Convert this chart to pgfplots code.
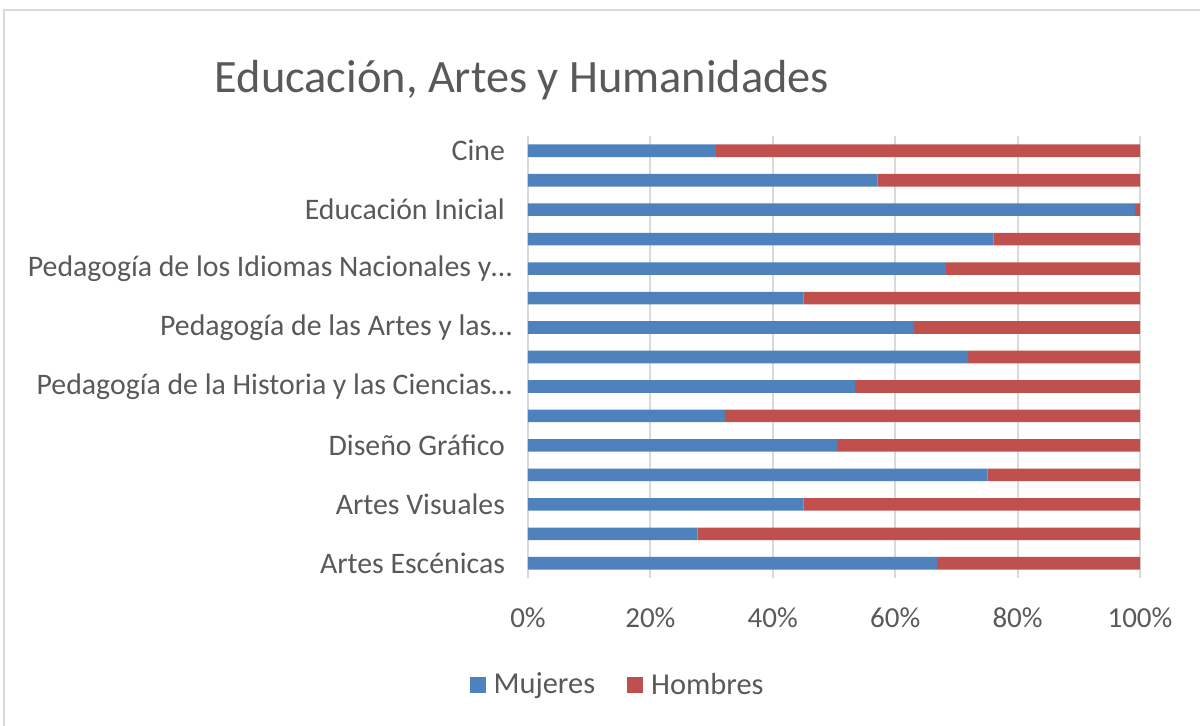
\documentclass[border=0pt]{standalone}
\usepackage{fontspec}
\setmainfont{Carlito}
\usepackage{pgfplots}
\pgfplotsset{compat=1.18}
\definecolor{mblue}{HTML}{4F81BD}
\definecolor{hred}{HTML}{C0504D}
\definecolor{txt}{HTML}{595959}
\definecolor{gridc}{HTML}{D9D9D9}
\newcommand{\tsp}{\rule{3.5pt}{0pt}}
\begin{document}
\begin{tikzpicture}
\path[use as bounding box] (0pt,0pt) rectangle (600pt,-363pt);
\draw[gridc, line width=1pt] (2pt,-363pt) -- (2pt,-5pt) -- (600pt,-5pt);
\node[txt, font=\fontsize{23.2}{27}\selectfont] at (261pt,-40pt) {Educación, Artes y Humanidades};
\begin{axis}[
  at={(264pt,-289pt)}, anchor=south west,
  scale only axis, width=306pt, height=221pt,
  xbar stacked, bar width=6.3pt,
  xmin=0, xmax=100, ymin=-0.5, ymax=14.5, y dir=reverse,
  xtick={0,20,40,60,80,100},
  xticklabels={0\%,20\%,40\%,60\%,80\%,100\%},
  ytick={0,2,4,6,8,10,12,14},
  yticklabels={Cine\tsp,Educación Inicial\tsp,Pedagogía de los Idiomas Nacionales y…,Pedagogía de las Artes y las…,Pedagogía de la Historia y las Ciencias…,Diseño Gráfico\tsp,Artes Visuales\tsp,Artes Escénicas\tsp},
  xmajorgrids, grid style={gridc, line width=1pt},
  major tick length=0pt,
  axis line style={draw=none},
  xticklabel style={txt, font=\fontsize{14.5}{17}\selectfont, yshift=-11.5pt},
  yticklabel style={txt, font=\fontsize{14.9}{17}\selectfont, xshift=-4.5pt},
  legend columns=2,
  legend style={at={(0.148,-0.242)}, anchor=center, draw=none, fill=none,
    font=\fontsize{15.2}{17}\selectfont, text=txt,
    /tikz/every even column/.append style={column sep=14pt}},
  legend image code/.code={\fill[#1] (0pt,-4pt) rectangle (8pt,4pt);},
  legend cell align=left,
]
\addplot[fill=mblue, draw=none] coordinates {
(30.7,0) (57.1,1) (99.2,2) (76.1,3) (68.3,4) (45.0,5) (63.1,6) (71.9,7)
(53.4,8) (32.2,9) (50.5,10) (75.1,11) (45.0,12) (27.7,13) (66.8,14)};
\addplot[fill=hred, draw=none] coordinates {
(69.3,0) (42.9,1) (0.8,2) (23.9,3) (31.7,4) (55.0,5) (36.9,6) (28.1,7)
(46.6,8) (67.8,9) (49.5,10) (24.9,11) (55.0,12) (72.3,13) (33.2,14)};
\legend{\hspace{2pt}Mujeres,\hspace{2pt}Hombres}
\end{axis}
\end{tikzpicture}
\end{document}
